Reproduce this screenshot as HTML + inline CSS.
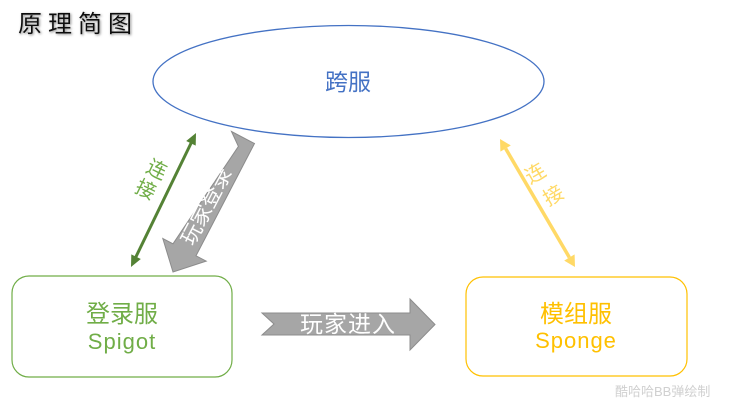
<!DOCTYPE html>
<html>
<head>
<meta charset="utf-8">
<style>
  html,body{margin:0;padding:0;background:#fff;}
  svg{display:block;}
  text{font-family:"Liberation Sans","Noto Sans CJK SC",sans-serif;}
</style>
</head>
<body>
<svg width="729" height="407" viewBox="0 0 729 407" xmlns="http://www.w3.org/2000/svg">
  <defs>
    <filter id="glow" x="-20%" y="-40%" width="140%" height="180%">
      <feGaussianBlur in="SourceAlpha" stdDeviation="1.2" result="b"/>
      <feOffset dx="1" dy="1" in="b" result="o"/>
      <feFlood flood-color="#888" result="c"/>
      <feComposite in="c" in2="o" operator="in" result="s"/>
      <feMerge><feMergeNode in="s"/><feMergeNode in="SourceGraphic"/></feMerge>
    </filter>
  </defs>

  <!-- Title -->
  <text x="18" y="32" font-size="24" letter-spacing="6" fill="#111" filter="url(#glow)">原理简图</text>

  <!-- Ellipse -->
  <ellipse cx="348.5" cy="81.5" rx="195.5" ry="56" fill="#fff" stroke="#4472C4" stroke-width="1.3"/>
  <text x="348" y="90" font-size="23" fill="#4472C4" text-anchor="middle">跨服</text>

  <!-- Green double arrow -->
  <line x1="135.8" y1="257.1" x2="191.2" y2="142.9" stroke="#548235" stroke-width="3"/>
  <polygon points="196,133 195.7,145.6 186.2,141" fill="#548235"/>
  <polygon points="131,267 140.8,259 131.3,254.4" fill="#548235"/>
  <text x="157" y="176.5" font-size="20" fill="#70AD47" text-anchor="middle" transform="rotate(26 157 169)">连</text>
  <text x="146" y="196.5" font-size="20" fill="#70AD47" text-anchor="middle" transform="rotate(26 146 189)">接</text>

  <!-- Gray diagonal block arrow -->
  <polygon points="231.5,131.5 254.5,143.5 196,255.8 206.2,261.1 173,272 162.8,238.5 173,243.8 238.4,146.4"
           fill="#A6A6A6" stroke="#8C8C8C" stroke-width="1"/>
  <text x="206" y="213.5" font-size="21" fill="#fff" text-anchor="middle" transform="rotate(-62.5 206 206)">玩家登录</text>

  <!-- Yellow double arrow -->
  <line x1="505.6" y1="148.5" x2="569.4" y2="257.5" stroke="#FFD966" stroke-width="3.5"/>
  <polygon points="500,139 510.8,145.4 500.4,151.6" fill="#FFD966"/>
  <polygon points="575,267 574.6,254.4 564.2,260.6" fill="#FFD966"/>
  <text x="535" y="180.5" font-size="20" fill="#FFD966" text-anchor="middle" transform="rotate(-30 535 173)">连</text>
  <text x="553" y="202.5" font-size="20" fill="#FFD966" text-anchor="middle" transform="rotate(-30 553 195)">接</text>

  <!-- Green box -->
  <rect x="12" y="276" width="220" height="101" rx="17" ry="17" fill="#fff" stroke="#70AD47" stroke-width="1.2"/>
  <text x="122" y="322" font-size="24" fill="#70AD47" text-anchor="middle">登录服</text>
  <text x="122" y="349" font-size="22" letter-spacing="1" fill="#70AD47" text-anchor="middle">Spigot</text>

  <!-- Horizontal gray arrow -->
  <polygon points="262,313 410,313 410,299 435,324.5 410,350 410,335 262,335 274,324"
           fill="#A6A6A6" stroke="#8C8C8C" stroke-width="1"/>
  <text x="348" y="332" font-size="23" letter-spacing="1" fill="#fff" text-anchor="middle">玩家进入</text>

  <!-- Yellow box -->
  <rect x="466" y="277" width="221" height="99" rx="17" ry="17" fill="#fff" stroke="#FFC000" stroke-width="1.2"/>
  <text x="576" y="322" font-size="24" fill="#FFC000" text-anchor="middle">模组服</text>
  <text x="576" y="348" font-size="22" letter-spacing="1" fill="#FFC000" text-anchor="middle">Sponge</text>

  <!-- Watermark -->
  <text x="615" y="396" font-size="13" fill="#D0D0D0">酷哈哈BB弹绘制</text>
</svg>
</body>
</html>
